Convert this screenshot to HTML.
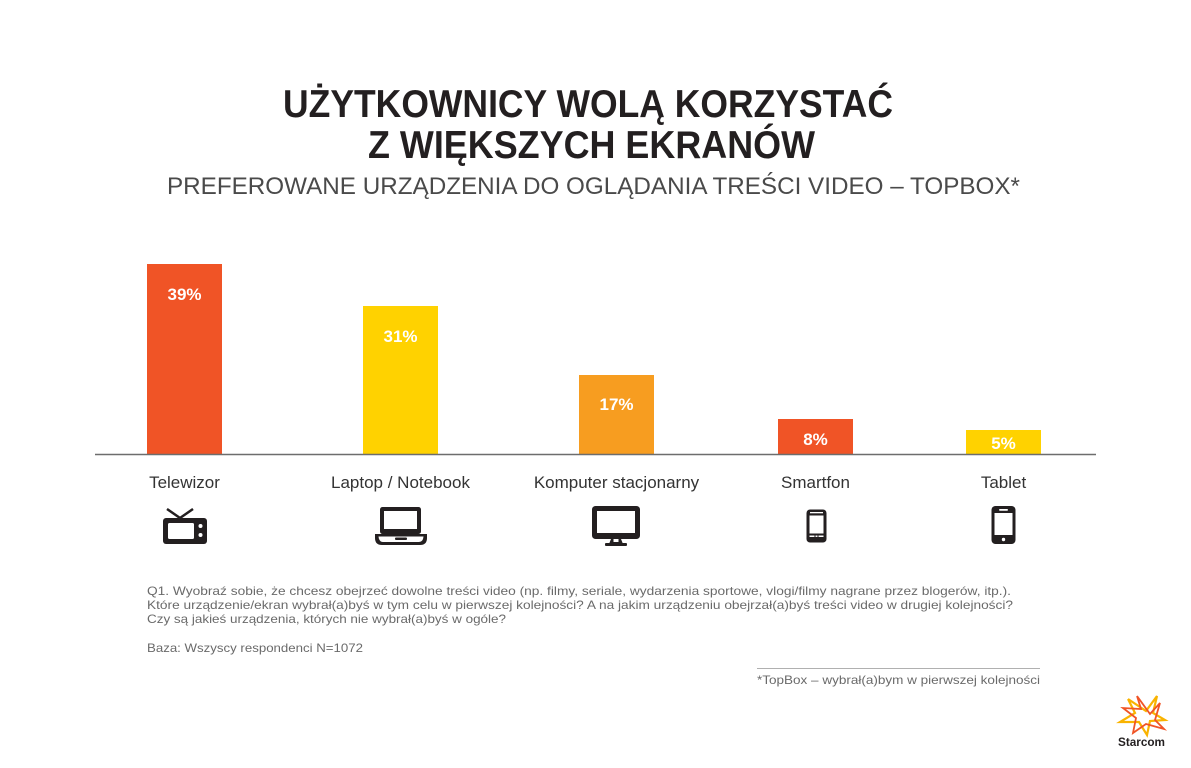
<!DOCTYPE html>
<html>
<head>
<meta charset="utf-8">
<style>
  html,body{margin:0;padding:0;background:#fff;}
  svg{display:block;}
  text{font-family:"Liberation Sans", sans-serif;}
</style>
</head>
<body>
<svg width="1191" height="768" viewBox="0 0 1191 768" xmlns="http://www.w3.org/2000/svg">
  <rect width="1191" height="768" fill="#fff"/>

  <!-- Title -->
  <text x="283" y="117" font-size="39" font-weight="bold" fill="#231f20" textLength="610" lengthAdjust="spacingAndGlyphs">UŻYTKOWNICY WOLĄ KORZYSTAĆ</text>
  <text x="368" y="158" font-size="39" font-weight="bold" fill="#231f20" textLength="447" lengthAdjust="spacingAndGlyphs">Z WIĘKSZYCH EKRANÓW</text>
  <text x="167" y="194" font-size="24" fill="#4a4a4a" textLength="853" lengthAdjust="spacingAndGlyphs">PREFEROWANE URZĄDZENIA DO OGLĄDANIA TREŚCI VIDEO – TOPBOX*</text>

  <!-- Bars -->
  <rect x="147" y="264" width="75" height="190" fill="#f05426"/>
  <rect x="363" y="306" width="75" height="148" fill="#ffd200"/>
  <rect x="579" y="375" width="75" height="79" fill="#f79d20"/>
  <rect x="778" y="419" width="75" height="35" fill="#f05426"/>
  <rect x="966" y="430" width="75" height="24" fill="#ffd200"/>

  <!-- Axis -->
  <line x1="95" y1="454.5" x2="1096" y2="454.5" stroke="#6d6d6d" stroke-width="1.5"/>

  <!-- Value labels -->
  <g font-size="17" font-weight="bold" fill="#fff" text-anchor="middle">
    <text x="184.5" y="300">39%</text>
    <text x="400.5" y="342">31%</text>
    <text x="616.5" y="410">17%</text>
    <text x="815.5" y="445">8%</text>
    <text x="1003.5" y="449">5%</text>
  </g>

  <!-- Category labels -->
  <g font-size="17" fill="#333" text-anchor="middle">
    <text x="184.5" y="488">Telewizor</text>
    <text x="400.5" y="488">Laptop / Notebook</text>
    <text x="616.5" y="488">Komputer stacjonarny</text>
    <text x="815.5" y="488">Smartfon</text>
    <text x="1003.5" y="488">Tablet</text>
  </g>

  <!-- TV icon -->
  <g fill="#231f20">
    <polyline points="167,509 180,518 193,509" fill="none" stroke="#231f20" stroke-width="2.5"/>
    <rect x="163" y="518" width="44" height="26" rx="3"/>
    <rect x="168" y="523" width="26" height="16" rx="1.5" fill="#fff"/>
    <circle cx="200.5" cy="526" r="2" fill="#fff"/>
    <circle cx="200.5" cy="535" r="2" fill="#fff"/>
  </g>

  <!-- Laptop icon -->
  <g fill="#231f20">
    <rect x="380" y="507" width="41" height="27" rx="2.5"/>
    <rect x="384" y="511" width="33" height="18" fill="#fff"/>
    <path d="M375,534 H427 V538 Q427,545 420,545 H382 Q375,545 375,538 Z"/>
    <path d="M378.5,536.5 H423.5 Q423,542 419,542 H383 Q379,542 378.5,536.5 Z" fill="#fff"/>
    <rect x="395" y="537.5" width="12" height="2.5" rx="1"/>
  </g>

  <!-- Monitor icon -->
  <g fill="#231f20">
    <rect x="592" y="506" width="48" height="33" rx="3.5"/>
    <rect x="597" y="511" width="38" height="22" fill="#fff"/>
    <path d="M611,539 H621 L623,544 H609 Z"/>
    <rect x="605" y="543" width="22" height="3" rx="1"/>
    <rect x="613.5" y="539" width="5" height="3" fill="#fff"/>
  </g>

  <!-- Smartphone icon -->
  <g fill="#231f20">
    <rect x="806.5" y="509.5" width="20" height="33" rx="3.5"/>
    <rect x="809.5" y="515.5" width="14" height="18" fill="#fff"/>
    <rect x="810" y="512" width="13" height="1.3" fill="#fff"/>
    <rect x="809.5" y="535.5" width="5" height="1.5" fill="#fff"/>
    <rect x="815.5" y="535.5" width="2" height="1.5" fill="#fff"/>
    <rect x="818.5" y="535.5" width="5" height="1.5" fill="#fff"/>
  </g>

  <!-- Tablet (phone) icon -->
  <g fill="#231f20">
    <rect x="991.5" y="506" width="24" height="38" rx="4"/>
    <rect x="994.5" y="513" width="18" height="22" fill="#fff"/>
    <rect x="999" y="509" width="9" height="1.8" rx="0.9" fill="#fff"/>
    <circle cx="1003.5" cy="539.5" r="1.7" fill="#fff"/>
  </g>

  <!-- Footnote -->
  <g font-size="12" fill="#6a6a6a">
    <text x="147" y="595" textLength="864" lengthAdjust="spacingAndGlyphs">Q1. Wyobraź sobie, że chcesz obejrzeć dowolne treści video (np. filmy, seriale, wydarzenia sportowe, vlogi/filmy nagrane przez blogerów, itp.).</text>
    <text x="147" y="609" textLength="866" lengthAdjust="spacingAndGlyphs">Które urządzenie/ekran wybrał(a)byś w tym celu w pierwszej kolejności? A na jakim urządzeniu obejrzał(a)byś treści video w drugiej kolejności?</text>
    <text x="147" y="623" textLength="359" lengthAdjust="spacingAndGlyphs">Czy są jakieś urządzenia, których nie wybrał(a)byś w ogóle?</text>
    <text x="147" y="652" textLength="216" lengthAdjust="spacingAndGlyphs">Baza: Wszyscy respondenci N=1072</text>
  </g>

  <line x1="757" y1="668.5" x2="1040" y2="668.5" stroke="#b0b0b0" stroke-width="1"/>
  <text x="757" y="684" font-size="12" fill="#6a6a6a" textLength="283" lengthAdjust="spacingAndGlyphs">*TopBox – wybrał(a)bym w pierwszej kolejności</text>

  <!-- Starcom logo -->
  <g fill="none" stroke-linejoin="miter">
    <polyline points="1128,699 1146,711 1157,696 1153,713 1165,720 1150,721 1147,735 1139,722 1120,722 1135,713 1128,699" stroke="#f9b300" stroke-width="2.2"/>
    <polyline points="1137,696 1150,714 1160,703 1155,720 1164,729 1146,724 1133,733 1136,718 1123,708 1141,709 1137,696" stroke="#f05426" stroke-width="1.8"/>
  </g>
  <text x="1141.5" y="746" font-size="12" font-weight="bold" fill="#231f20" text-anchor="middle" textLength="47" lengthAdjust="spacingAndGlyphs">Starcom</text>
</svg>
</body>
</html>
